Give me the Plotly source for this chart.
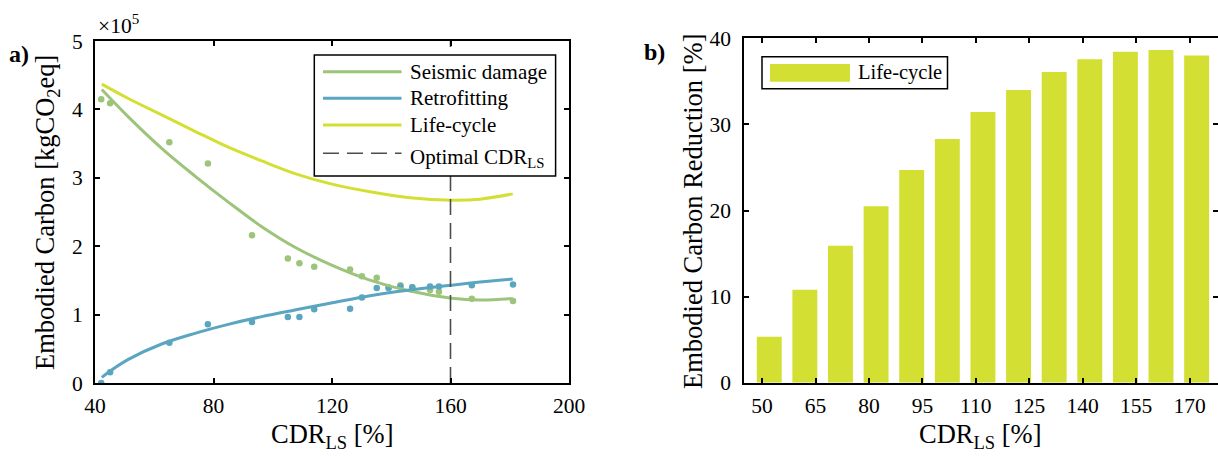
import plotly.graph_objects as go

# ---------------- data ----------------
# panel a) scatter points (CDR_LS [%], embodied carbon [kgCO2eq])
CDR_POINTS = [42.1, 45.1, 65.1, 78.1, 93.0, 105.1, 109.0, 114.0, 126.1, 130.1,
              135.1, 139.1, 143.1, 147.1, 153.1, 156.1, 167.2, 181.1]
SEISMIC_POINTS = [4.15e5, 4.09e5, 3.52e5, 3.21e5, 2.16e5, 1.82e5, 1.75e5, 1.70e5, 1.66e5, 1.56e5,
                  1.54e5, 1.40e5, 1.43e5, 1.40e5, 1.36e5, 1.335e5, 1.23e5, 1.20e5]
RETROFIT_POINTS = [0.0, 0.156e5, 0.59e5, 0.86e5, 0.89e5, 0.965e5, 0.965e5, 1.08e5, 1.086e5, 1.25e5,
                   1.39e5, 1.39e5, 1.41e5, 1.40e5, 1.41e5, 1.41e5, 1.43e5, 1.44e5]

# panel a) fitted curves (read from the picture)
CDR_FIT = [42.3, 51.25, 62.5, 73.75, 85.0, 96.3, 107.5, 119.3, 132.8, 146.3, 160.4, 170.0, 181.0]
SEISMIC_FIT = [4.29e5, 3.89e5, 3.43e5, 3.025e5, 2.645e5, 2.285e5, 1.985e5, 1.735e5, 1.505e5, 1.345e5,
               1.24e5, 1.213e5, 1.235e5]
CDR_FIT_RETRO = [42.3, 45.6, 51.25, 62.5, 73.75, 85.0, 96.3, 107.5, 119.3, 132.8, 146.3, 160.4, 170.0, 181.0]
RETROFIT_FIT = [0.083e5, 0.19e5, 0.346e5, 0.57e5, 0.726e5, 0.857e5, 0.97e5, 1.067e5, 1.165e5, 1.277e5,
                1.36e5, 1.43e5, 1.475e5, 1.52e5]
LIFECYCLE_FIT = [4.37e5, 4.16e5, 3.92e5, 3.68e5, 3.447e5, 3.247e5, 3.062e5, 2.915e5, 2.797e5, 2.71e5,
                 2.673e5, 2.688e5, 2.765e5]
OPTIMAL_CDR = 160

# panel b) bars
BAR_CDR = [52, 62, 72, 82, 92, 102, 112, 122, 132, 142, 152, 162, 172]
REDUCTION = [5.35, 10.8, 15.9, 20.5, 24.7, 28.3, 31.45, 34.0, 36.1, 37.56, 38.45, 38.64, 38.0]

# tick labels
A_XTICKS = [40, 80, 120, 160, 200]
A_YTICKS = [0, 1e5, 2e5, 3e5, 4e5, 5e5]
A_YTICKTEXT = ["0", "1", "2", "3", "4", "5"]
B_XTICKS = [50, 65, 80, 95, 110, 125, 140, 155, 170]
B_YTICKS = [0, 10, 20, 30, 40]

# ---------------- style ----------------
W, H = 1218, 458
FONT = "Liberation Serif, Times New Roman, serif"
GREEN = "#9CC47A"
BLUE = "#5AA5BF"
YELLOW = "#D4DF34"
DASH_GRAY = "#4D4D4D"
TICK_SIZE = 21.5
TITLE_SIZE = 26.5
LEG_SIZE = 21


def px(x):
    return x / W


def py(y):
    return 1 - y / H


fig = go.Figure()

# panel a
fig.add_trace(go.Scatter(x=CDR_POINTS, y=SEISMIC_POINTS, mode="markers",
                         marker=dict(color=GREEN, size=6.5), xaxis="x", yaxis="y", showlegend=False))
fig.add_trace(go.Scatter(x=CDR_POINTS, y=RETROFIT_POINTS, mode="markers",
                         marker=dict(color=BLUE, size=6.5), xaxis="x", yaxis="y", showlegend=False))
fig.add_trace(go.Scatter(x=CDR_FIT, y=SEISMIC_FIT, mode="lines", line=dict(color=GREEN, width=3, shape="spline"),
                         xaxis="x", yaxis="y", showlegend=False))
fig.add_trace(go.Scatter(x=CDR_FIT_RETRO, y=RETROFIT_FIT, mode="lines", line=dict(color=BLUE, width=3, shape="spline"),
                         xaxis="x", yaxis="y", showlegend=False))
fig.add_trace(go.Scatter(x=CDR_FIT, y=LIFECYCLE_FIT, mode="lines", line=dict(color=YELLOW, width=3, shape="spline"),
                         xaxis="x", yaxis="y", showlegend=False))
fig.add_trace(go.Scatter(x=[OPTIMAL_CDR, OPTIMAL_CDR], y=[A_YTICKS[0], A_YTICKS[-1]], mode="lines",
                         line=dict(color=DASH_GRAY, width=1.6, dash="16px,8px"),
                         xaxis="x", yaxis="y", showlegend=False))

# panel b
fig.add_trace(go.Bar(x=BAR_CDR, y=REDUCTION, width=7, marker=dict(color=YELLOW, line=dict(width=0)),
                     xaxis="x2", yaxis="y2", showlegend=False))

axis_common = dict(showline=True, linecolor="black", linewidth=2, mirror="ticks", ticks="inside",
                   ticklen=5, tickwidth=1.5, tickcolor="black", showgrid=False, zeroline=False,
                   automargin=False,
                   tickfont=dict(family=FONT, size=TICK_SIZE, color="black"))

fig.update_layout(
    width=W, height=H, margin=dict(l=0, r=0, t=0, b=0, pad=0, autoexpand=False), autosize=False,
    paper_bgcolor="white", plot_bgcolor="white",
    font=dict(family=FONT, color="black"),
    xaxis=dict(domain=[px(95), px(569)], range=[40, 200], tickvals=A_XTICKS, anchor="y",
               ticklabelstandoff=2, **axis_common),
    yaxis=dict(domain=[py(383), py(41)], range=[0, 5e5], tickvals=A_YTICKS, ticktext=A_YTICKTEXT,
               anchor="x", ticklabelstandoff=6, **axis_common),
    xaxis2=dict(domain=[px(744.3), 1.0], range=[45, 178], tickvals=B_XTICKS, anchor="y2",
                ticklabelstandoff=2, **axis_common),
    yaxis2=dict(domain=[py(382.7), py(38.3)], range=[0, 40], tickvals=B_YTICKS, anchor="x2",
                ticklabelstandoff=7, **axis_common),
)

shapes = []
annotations = []


def ann(text, x, y, size, xanchor="center", yanchor="middle", angle=0, bold=False):
    if bold:
        text = "<b>" + text + "</b>"
    annotations.append(dict(text=text, x=px(x), y=py(y), xref="paper", yref="paper",
                            xanchor=xanchor, yanchor=yanchor, showarrow=False, textangle=angle,
                            font=dict(family=FONT, size=size, color="black")))


# axis titles
ann("Embodied Carbon [kgCO<sub>2</sub>eq]", 47, 213, TITLE_SIZE, angle=-90)
ann("CDR<sub>LS</sub> [%]", 332, 436, TITLE_SIZE)
ann("Embodied Carbon Reduction [%]", 693, 212, TITLE_SIZE, angle=-90)
ann("CDR<sub>LS</sub> [%]", 980, 436, TITLE_SIZE)
# panel labels
ann("a)", 19, 54, 24, bold=True)
ann("b)", 654, 52, 24, bold=True)
# exponent
ann("\u00d710<sup>5</sup>", 96, 24, TICK_SIZE, xanchor="left")

# legend a
shapes.append(dict(type="rect", xref="paper", yref="paper", x0=px(314.3), x1=px(555.6), y0=py(176), y1=py(55),
                   line=dict(color="black", width=1.5), fillcolor="white", layer="above"))
leg_items = [("Seismic damage", GREEN, "solid", 71.7),
             ("Retrofitting", BLUE, "solid", 98.3),
             ("Life-cycle", YELLOW, "solid", 125),
             ("Optimal CDR<sub>LS</sub>", DASH_GRAY, "16px,8px", 153.3)]
for label, col, dash, yy in leg_items:
    shapes.append(dict(type="line", xref="paper", yref="paper", x0=px(323), x1=px(401.5), y0=py(yy), y1=py(yy),
                       line=dict(color=col, width=3 if dash == "solid" else 1.6, dash=dash), layer="above"))
    ann(label, 408.4, yy + (5 if "sub" in label else 0), LEG_SIZE, xanchor="left")

# legend b
shapes.append(dict(type="rect", xref="paper", yref="paper", x0=px(762), x1=px(947.5), y0=py(88.7), y1=py(56.7),
                   line=dict(color="black", width=1.5), fillcolor="white", layer="above"))
shapes.append(dict(type="rect", xref="paper", yref="paper", x0=px(770), x1=px(850), y0=py(81.7), y1=py(64),
                   line=dict(width=0), fillcolor=YELLOW, layer="above"))
ann("Life-cycle", 856, 73, 20.5, xanchor="left")

fig.update_layout(shapes=shapes, annotations=annotations)

fig.write_html("out.html")
